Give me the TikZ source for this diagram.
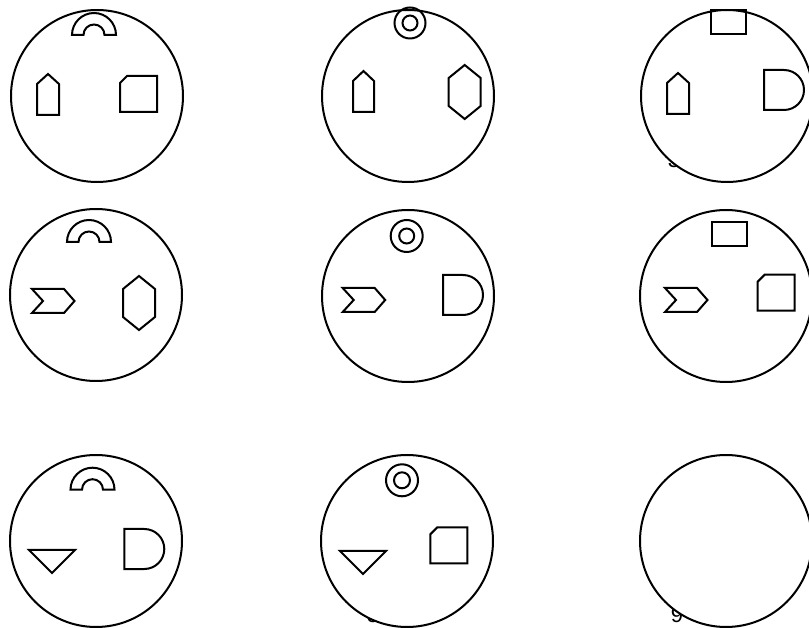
\documentclass[tikz,border=0pt]{standalone}
\usepackage{fontspec}
\setmainfont{Liberation Sans}
\usepackage{tikz}
\usetikzlibrary{positioning}
\newcommand{\archpin}[1]{\draw[prong] #1 ++(-22,0) arc (180:0:22) -- ++(-11.5,0) arc (0:180:10.5) -- cycle;}
\newcommand{\ringpin}[3]{\draw[prong] #1 circle[radius=#2] #1 circle[radius=#3];}
\newcommand{\rectpin}[1]{\draw[prong] #1 rectangle ++(35,24);}
\newcommand{\housepin}[2]{\draw[prong] #1 -- ++(#2,0) -- ++(0,31) -- ++(-#2/2,10) -- ++(-#2/2,-10) -- cycle;}
\newcommand{\cutpin}[1]{\draw[prong] #1 -- ++(37,0) -- ++(0,36) -- ++(-30,0) -- ++(-7,-7) -- cycle;}
\newcommand{\hexpin}[1]{\draw[prong] #1 -- ++(16,13) -- ++(0,28) -- ++(-16,13) -- ++(-16,-13) -- ++(0,-28) -- cycle;}
\newcommand{\dpin}[1]{\draw[prong] #1 -- ++(0,40) -- ++(20,0) arc (90:-90:20) -- cycle;}
\newcommand{\chevpin}[1]{\draw[prong] #1 -- ++(32,0) -- ++(10.5,12) -- ++(-10.5,12) -- ++(-32,0) -- ++(11,-12) -- cycle;}
\newcommand{\tripin}[1]{\draw[prong] #1 -- ++(46,0) -- ++(-23,-23) -- cycle;}

\begin{document}
\begin{tikzpicture}[
  x=1pt, y=1pt,
  dial/.style={circle, draw, fill=white, line width=2pt, minimum size=172pt, inner sep=0pt},
  prong/.style={draw, line width=2pt, line join=miter},
  num/.style={anchor=base, inner sep=0pt, font=\fontsize{22}{22}\selectfont}
]
\useasboundingbox (0,0) rectangle (809,627);

% numbers sit behind the dials
\node[num] (lab3) at (674,459) {3};
\node[num] (lab8) at (373,5) {8};
\node[num] (lab9) at (677,5) {9};

\node[dial] (dial1) at (97,531) {};
\node[dial] (dial2) at (408,531) {};
\node[dial] (dial3) at (727,531) {};
\node[dial] (dial4) at (96,332) {};
\node[dial] (dial5) at (408,331) {};
\node[dial] (dial6) at (726,331) {};
\node[dial] (dial7) at (96,86) {};
\node[dial] (dial8) at (407,86) {};
\node[dial] (dial9) at (726,86) {};

% top row
\archpin{(94,592)}
\housepin{(37,512)}{22}
\cutpin{(120,515)}
\ringpin{(410,604)}{15.5}{7.5}
\housepin{(353,515)}{21}
\hexpin{(464.7,508)}
\rectpin{(711,593)}
\housepin{(667,513)}{22}
\dpin{(764,517)}

% middle row
\archpin{(89,385)}
\chevpin{(32,314)}
\hexpin{(139,297)}
\ringpin{(406.7,391)}{16}{7.5}
\chevpin{(342.7,315)}
\dpin{(443,312)}
\rectpin{(712.3,381)}
\chevpin{(665,315)}
\cutpin{(757.7,316.3)}

% bottom row
\archpin{(92.5,137.3)}
\tripin{(29,77)}
\dpin{(124.3,58)}
\ringpin{(402,146.7)}{16}{8}
\tripin{(340,76)}
\cutpin{(430.3,63.7)}
\end{tikzpicture}
\end{document}
